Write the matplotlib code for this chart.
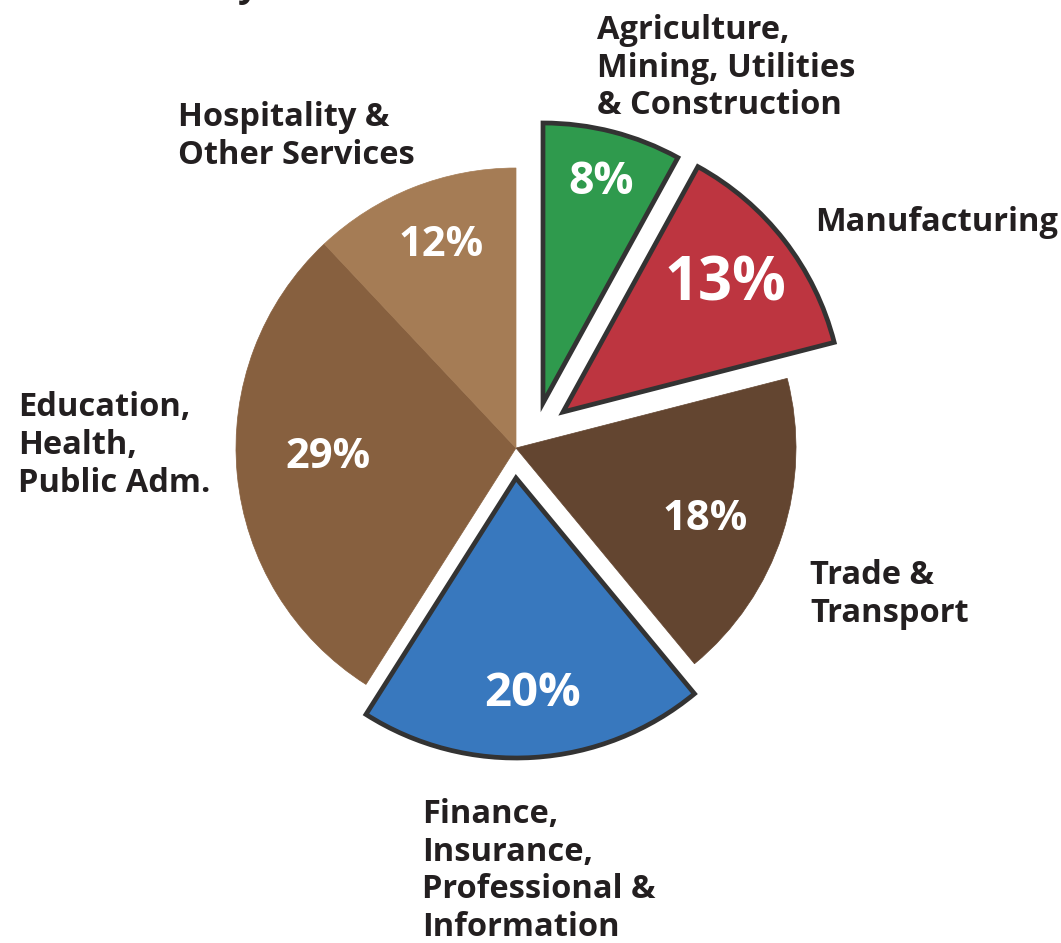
import matplotlib.pyplot as plt

# Share of employment by industry (%)
sectors = ['Agriculture,\nMining, Utilities\n& Construction', 'Manufacturing',
           'Trade &\nTransport', 'Finance,\nInsurance,\nProfessional &\nInformation',
           'Education,\nHealth,\nPublic Adm.', 'Hospitality &\nOther Services']
shares = [8, 13, 18, 20, 29, 12]
colors = ['#2f9a4d', '#bd3540', '#634530', '#3878be', '#87603f', '#a57c55']
outlined = [True, True, False, True, False, False]

# pixel layout (y measured downwards from the top, flipped below)
H = 943
cx, cy, R = 516, H - 448, 280
shift = [(27, 45), (47, 36), (0, 0), (0, -30), (0, 0), (0, 0)]
name_pos = [(597, 14), (815, 206), (810, 559), (422, 798), (18, 391), (178, 101)]
pct_pos = [(601, 183), (725, 285), (705, 520), (533, 693), (328, 457), (441, 246)]
pct_size = [32, 43, 30, 34, 30, 30]

fig = plt.figure(figsize=(10.61, 9.43), dpi=100)
ax = fig.add_axes([0, 0, 1, 1])

wedges, _ = ax.pie(shares, colors=colors, startangle=90, counterclock=False,
                   radius=R, center=(cx, cy))
for w, s, o in zip(wedges, shift, outlined):
    w.set_center((cx + s[0], cy + s[1]))
    if o:
        w.set_edgecolor('#333333')
        w.set_linewidth(3.4)
        w.set_joinstyle('miter')
    else:
        w.set_edgecolor(w.get_facecolor())
        w.set_linewidth(0.5)

fam = ['Open Sans', 'DejaVu Sans']
for name, (x, y) in zip(sectors, name_pos):
    ax.text(x, H - y, name, ha='left', va='top', fontsize=23.5,
            color='#231f20', linespacing=1.19, family=fam, fontweight='bold')
for v, (x, y), fs in zip(shares, pct_pos, pct_size):
    ax.text(x, H - y, f'{v}%', ha='center', va='center', fontsize=fs,
            color='white', fontweight='bold', family=fam)

# descender of the cropped title letter
ax.text(248, H + 4, 'y', ha='center', va='baseline', fontsize=26,
        color='#231f20', family=fam, fontweight='bold')

ax.set_xlim(0, 1061)
ax.set_ylim(0, H)
ax.set_aspect('auto')
ax.axis('off')
fig.savefig('out.png', dpi=100)
